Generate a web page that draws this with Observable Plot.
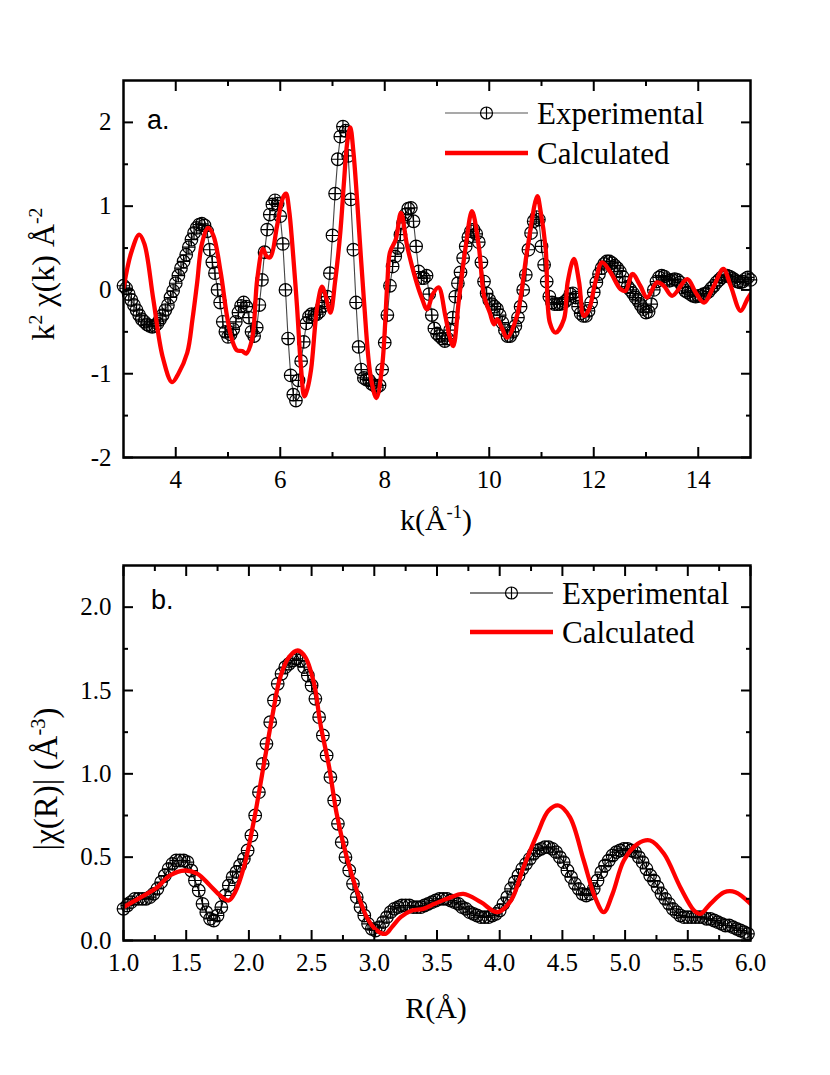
<!DOCTYPE html>
<html><head><meta charset="utf-8">
<script src="https://cdn.jsdelivr.net/npm/d3@7"></script>
<script src="https://cdn.jsdelivr.net/npm/@observablehq/plot@0.6"></script>
<style>body{margin:0;background:#fff;} #c{width:830px;} svg{display:block;} svg text{font-family:'Liberation Serif','Times New Roman',serif;}</style>
</head><body><div id="c"></div>
<script>
// ---------- Panel a: k-space ----------
const kExp = [3.00,3.05,3.10,3.15,3.20,3.25,3.30,3.35,3.40,3.45,3.50,3.55,3.60,3.65,3.70,3.75,3.80,3.85,3.90,3.95,
4.00,4.05,4.10,4.15,4.20,4.25,4.30,4.35,4.40,4.45,4.50,4.55,4.60,4.65,4.70,4.75,4.80,4.85,4.90,4.95,
5.00,5.05,5.10,5.15,5.20,5.25,5.30,5.35,5.40,5.45,5.50,5.55,5.60,5.65,5.70,5.75,5.80,5.85,5.90,5.95,
6.00,6.05,6.10,6.15,6.20,6.25,6.30,6.35,6.40,6.45,6.50,6.55,6.60,6.65,6.70,6.75,6.80,6.85,6.90,6.95,
7.00,7.05,7.10,7.15,7.20,7.25,7.30,7.35,7.40,7.45,7.50,7.55,7.60,7.65,7.70,7.75,7.80,7.85,7.90,7.95,
8.00,8.05,8.10,8.15,8.20,8.25,8.30,8.35,8.40,8.45,8.50,8.55,8.60,8.65,8.70,8.75,8.80,8.85,8.90,8.95,
9.00,9.05,9.10,9.15,9.20,9.25,9.30,9.35,9.40,9.45,9.50,9.55,9.60,9.65,9.70,9.75,9.80,9.85,9.90,9.95,
10.00,10.05,10.10,10.15,10.20,10.25,10.30,10.35,10.40,10.45,10.50,10.55,10.60,10.65,10.70,10.75,10.80,10.85,10.90,10.95,
11.00,11.05,11.10,11.15,11.20,11.25,11.30,11.35,11.40,11.45,11.50,11.55,11.60,11.65,11.70,11.75,11.80,11.85,11.90,11.95,
12.00,12.05,12.10,12.15,12.20,12.25,12.30,12.35,12.40,12.45,12.50,12.55,12.60,12.65,12.70,12.75,12.80,12.85,12.90,12.95,
13.00,13.05,13.10,13.15,13.20,13.25,13.30,13.35,13.40,13.45,13.50,13.55,13.60,13.65,13.70,13.75,13.80,13.85,13.90,13.95,
14.00,14.05,14.10,14.15,14.20,14.25,14.30,14.35,14.40,14.45,14.50,14.55,14.60,14.65,14.70,14.75,14.80,14.85,14.90,14.95,
15.00];
const chiExp = [0.05,0.02,-0.05,-0.12,-0.18,-0.24,-0.30,-0.35,-0.38,-0.41,-0.43,-0.44,-0.43,-0.40,-0.35,-0.30,-0.24,-0.18,-0.09,-0.01,
0.08,0.17,0.26,0.34,0.42,0.51,0.60,0.68,0.74,0.78,0.79,0.77,0.70,0.48,0.33,0.20,0.00,-0.15,-0.38,-0.50,
-0.56,-0.53,-0.47,-0.38,-0.27,-0.19,-0.15,-0.20,-0.33,-0.50,-0.55,-0.45,-0.18,0.12,0.45,0.72,0.90,1.02,1.07,1.03,
0.88,0.55,0.00,-0.58,-1.02,-1.25,-1.32,-1.08,-0.85,-0.62,-0.40,-0.32,-0.29,-0.30,-0.29,-0.26,-0.20,-0.15,-0.08,0.20,
0.65,1.15,1.56,1.83,1.95,1.90,1.60,1.08,0.48,-0.15,-0.68,-0.95,-1.05,-1.07,-1.08,-1.12,-1.14,-1.16,-1.14,-0.95,
-0.63,-0.30,0.05,0.28,0.40,0.50,0.66,0.80,0.90,0.97,0.98,0.82,0.52,0.22,0.14,0.14,0.17,-0.05,-0.30,-0.46,
-0.52,-0.55,-0.58,-0.61,-0.58,-0.48,-0.33,-0.08,0.08,0.21,0.38,0.52,0.63,0.70,0.72,0.67,0.57,0.33,0.10,-0.04,
-0.12,-0.17,-0.20,-0.23,-0.30,-0.39,-0.48,-0.55,-0.55,-0.50,-0.43,-0.33,-0.20,0.00,0.18,0.48,0.68,0.82,0.87,0.84,
0.52,0.30,0.10,-0.08,-0.15,-0.17,-0.17,-0.17,-0.16,-0.14,-0.11,-0.05,-0.04,-0.09,-0.20,-0.28,-0.31,-0.31,-0.25,-0.15,
-0.03,0.09,0.19,0.26,0.31,0.34,0.34,0.32,0.29,0.26,0.22,0.16,0.09,0.04,0.00,-0.04,-0.09,-0.13,-0.18,-0.23,
-0.27,-0.26,-0.17,0.00,0.10,0.15,0.17,0.16,0.13,0.11,0.12,0.13,0.12,0.09,0.03,-0.01,-0.03,-0.05,-0.07,-0.08,
-0.07,-0.07,-0.05,-0.04,-0.02,0.02,0.05,0.09,0.12,0.15,0.17,0.17,0.16,0.14,0.12,0.10,0.09,0.10,0.13,0.15,
0.12];
const kCalc = [3.00,3.15,3.30,3.40,3.57,3.75,3.93,4.05,4.22,4.32,4.41,4.50,4.62,4.72,4.86,4.98,5.08,5.17,5.27,5.35,5.46,5.56,5.67,5.74,5.81,5.94,6.05,6.11,6.17,6.23,6.32,6.40,6.46,6.52,6.59,6.71,6.80,6.86,6.96,7.05,7.15,7.22,7.28,7.34,7.40,7.47,7.60,7.73,7.84,7.95,8.05,8.10,8.21,8.31,8.43,8.59,8.70,8.81,8.92,9.03,9.16,9.24,9.31,9.42,9.55,9.67,9.80,9.90,10.01,10.09,10.15,10.24,10.34,10.53,10.73,10.92,10.98,11.08,11.16,11.27,11.43,11.50,11.62,11.72,11.81,11.91,12.03,12.16,12.32,12.51,12.61,12.74,12.89,13.02,13.21,13.34,13.50,13.79,13.95,14.11,14.30,14.48,14.62,14.81,14.94,15.00];
const chiCalc = [0.02,0.45,0.66,0.55,-0.11,-0.80,-1.10,-1.00,-0.75,-0.35,0.09,0.55,0.74,0.65,0.21,-0.31,-0.60,-0.72,-0.73,-0.76,-0.59,0.13,0.49,0.40,0.39,0.77,1.10,1.15,0.95,0.55,-0.19,-0.95,-1.27,-1.18,-0.95,-0.19,0.04,-0.05,-0.27,0.10,0.69,1.29,1.75,1.94,1.65,1.08,-0.11,-1.03,-1.29,-0.91,0.09,0.45,0.60,0.92,0.52,0.13,-0.08,-0.23,-0.05,0.03,-0.31,-0.55,-0.67,-0.11,0.52,0.94,0.52,-0.07,-0.27,-0.41,-0.35,-0.45,-0.57,-0.31,0.49,1.12,0.95,0.49,-0.39,-0.51,-0.35,0.09,0.37,0.09,-0.31,-0.23,0.09,0.33,0.21,0.01,-0.01,0.19,0.05,-0.09,0.09,0.05,-0.07,0.13,-0.03,-0.15,0.05,0.25,0.05,-0.25,-0.11,-0.05];
const aXMajor = [4,6,8,10,12,14], aXMinor = [5,7,9,11,13];
const aYMajor = [-2,-1,0,1,2], aYMinor = [-1.5,-0.5,0.5,1.5];

// ---------- Panel b: R-space ----------
const rExp = [1.00,1.03,1.06,1.09,1.12,1.15,1.18,1.21,1.24,1.27,1.30,1.33,1.36,1.39,1.42,1.45,1.48,1.51,1.54,1.57,1.60,1.63,1.66,1.69,1.72,1.75,1.78,1.81,1.84,1.87,1.90,1.93,1.96,1.99,
2.02,2.05,2.08,2.11,2.14,2.17,2.20,2.23,2.26,2.29,2.32,2.35,2.38,2.41,2.44,2.47,2.50,2.53,2.56,2.59,2.62,2.65,2.68,2.71,2.74,2.77,2.80,2.83,2.86,2.89,2.92,2.95,2.98,
3.01,3.04,3.07,3.10,3.13,3.16,3.19,3.22,3.25,3.28,3.31,3.34,3.37,3.40,3.43,3.46,3.49,3.52,3.55,3.58,3.61,3.64,3.67,3.70,3.73,3.76,3.79,3.82,3.85,3.88,3.91,3.94,3.97,
4.00,4.03,4.06,4.09,4.12,4.15,4.18,4.21,4.24,4.27,4.30,4.33,4.36,4.39,4.42,4.45,4.48,4.51,4.54,4.57,4.60,4.63,4.66,4.69,4.72,4.75,4.78,4.81,4.84,4.87,4.90,4.93,4.96,4.99,
5.02,5.05,5.08,5.11,5.14,5.17,5.20,5.23,5.26,5.29,5.32,5.35,5.38,5.41,5.44,5.47,5.50,5.53,5.56,5.59,5.62,5.65,5.68,5.71,5.74,5.77,5.80,5.83,5.86,5.89,5.92,5.95,5.98];
const ftExp = [0.19,0.21,0.23,0.25,0.25,0.25,0.25,0.26,0.28,0.31,0.35,0.39,0.43,0.46,0.48,0.48,0.48,0.47,0.42,0.36,0.30,0.22,0.17,0.13,0.12,0.15,0.20,0.27,0.33,0.38,0.41,0.45,0.49,0.54,
0.63,0.75,0.89,1.06,1.18,1.31,1.44,1.54,1.60,1.64,1.66,1.68,1.69,1.68,1.64,1.59,1.53,1.45,1.34,1.23,1.11,0.98,0.84,0.70,0.59,0.50,0.42,0.34,0.26,0.20,0.15,0.10,0.07,
0.06,0.08,0.11,0.14,0.17,0.19,0.20,0.21,0.21,0.21,0.20,0.20,0.20,0.21,0.22,0.23,0.24,0.25,0.25,0.25,0.24,0.23,0.22,0.20,0.19,0.17,0.16,0.15,0.14,0.14,0.14,0.15,0.16,
0.18,0.22,0.26,0.31,0.35,0.39,0.43,0.46,0.49,0.52,0.54,0.55,0.56,0.56,0.55,0.53,0.50,0.47,0.42,0.38,0.34,0.31,0.28,0.27,0.28,0.31,0.36,0.41,0.45,0.48,0.51,0.53,0.54,0.55,
0.55,0.54,0.53,0.50,0.47,0.43,0.39,0.36,0.32,0.28,0.25,0.22,0.19,0.17,0.15,0.14,0.14,0.14,0.14,0.14,0.14,0.13,0.13,0.12,0.11,0.10,0.09,0.09,0.08,0.07,0.06,0.05,0.04];
const rCalc = [1.00,1.14,1.27,1.37,1.49,1.59,1.69,1.77,1.84,1.89,1.96,2.04,2.12,2.19,2.25,2.32,2.39,2.45,2.52,2.57,2.64,2.70,2.78,2.86,2.94,3.02,3.09,3.14,3.21,3.30,3.39,3.48,3.58,3.71,3.85,3.98,4.09,4.19,4.30,4.39,4.47,4.56,4.67,4.76,4.83,4.90,4.99,5.10,5.20,5.31,5.44,5.55,5.60,5.68,5.79,5.88,6.00];
const ftCalc = [0.20,0.26,0.32,0.39,0.42,0.40,0.33,0.27,0.24,0.29,0.44,0.72,1.06,1.36,1.58,1.70,1.74,1.70,1.54,1.30,1.04,0.76,0.50,0.30,0.14,0.06,0.04,0.08,0.14,0.18,0.19,0.22,0.25,0.28,0.23,0.17,0.24,0.44,0.64,0.78,0.81,0.74,0.48,0.26,0.17,0.28,0.48,0.58,0.60,0.52,0.32,0.18,0.16,0.22,0.29,0.29,0.22];
const bXMajor = [1,1.5,2,2.5,3,3.5,4,4.5,5,5.5,6], bXMinor = [1.25,1.75,2.25,2.75,3.25,3.75,4.25,4.75,5.25,5.75];
const bYMajor = [0,0.5,1,1.5,2], bYMinor = [0.25,0.75,1.25,1.75];

const legendLabels = ["Experimental", "Calculated"];
const RED = "#ff0000";
const SERIF = "'Liberation Serif', 'Times New Roman', serif";
const SANS = "'Liberation Sans', Arial, sans-serif";

// circle with a cross inside (⊕ marker)
const circlePlus = {draw(ctx, size) {
  const r = Math.sqrt(size / Math.PI);
  ctx.moveTo(r, 0); ctx.arc(0, 0, r, 0, 2 * Math.PI);
  ctx.moveTo(-r, 0); ctx.lineTo(r, 0);
  ctx.moveTo(0, -r); ctx.lineTo(0, r);
}};

function frameAxes(xMaj, xMin, yMaj, yMin, fx, fy) {
  const t = {fill: "none", label: null, strokeWidth: 2};
  return [
    Plot.axisX(xMaj, {anchor: "bottom", tickSize: -10, ...t}),
    Plot.axisX(xMin, {anchor: "bottom", tickSize: -5, ...t}),
    Plot.axisX(xMaj, {anchor: "top", tickSize: -10, ...t}),
    Plot.axisX(xMin, {anchor: "top", tickSize: -5, ...t}),
    Plot.axisY(yMaj, {anchor: "left", tickSize: -10, ...t}),
    Plot.axisY(yMin, {anchor: "left", tickSize: -5, ...t}),
    Plot.axisY(yMaj, {anchor: "right", tickSize: -10, ...t}),
    Plot.axisY(yMin, {anchor: "right", tickSize: -5, ...t}),
    Plot.axisX(xMaj, {anchor: "bottom", tickSize: 0, tickPadding: 13, tickFormat: fx, label: null, fontSize: 25}),
    Plot.axisY(yMaj, {anchor: "left", tickSize: 0, tickPadding: 12, tickFormat: fy, label: null, fontSize: 25}),
    Plot.frame({stroke: "black", strokeWidth: 2.5})
  ];
}

function addText(svg, x, y, parts, opts = {}) {
  const size = opts.size || 30;
  const t = d3.select(svg).append("text")
    .attr("x", x).attr("y", y)
    .style("font-family", opts.family || SERIF)
    .attr("font-size", size)
    .attr("fill", "black")
    .attr("text-anchor", opts.anchor || "start");
  if (opts.rotate) t.attr("transform", `rotate(-90, ${x}, ${y})`);
  let shift = 0;
  for (const p of parts) {
    const s = t.append("tspan").text(p.t);
    if (p.sup) { s.attr("dy", -12 - shift).attr("font-size", size * 0.62); shift = -12; }
    else if (shift) { s.attr("dy", -shift); shift = 0; }
  }
  return t;
}

function addLegend(svg, x0, x1, y1, y2, tx, lineColor) {
  const g = d3.select(svg).append("g");
  g.append("line").attr("x1", x0).attr("x2", x1).attr("y1", y1).attr("y2", y1)
    .attr("stroke", lineColor).attr("stroke-width", 1.2);
  g.append("path").attr("transform", `translate(${(x0 + x1) / 2},${y1})`)
    .attr("d", d3.symbol(circlePlus, Math.PI * 36)()).attr("fill", "white").attr("stroke", "black").attr("stroke-width", 1.2);
  g.append("line").attr("x1", x0).attr("x2", x1).attr("y1", y2).attr("y2", y2)
    .attr("stroke", RED).attr("stroke-width", 4.5);
  for (const [i, yy] of [[0, y1], [1, y2]]) {
    g.append("text").attr("x", tx).attr("y", yy + 11).attr("text-anchor", "start")
      .style("font-family", SERIF).attr("font-size", 31).attr("fill", "black").text(legendLabels[i]);
  }
}

const expA = kExp.map((k, i) => ({k, v: chiExp[i]}));
const calcA = kCalc.map((k, i) => ({k, v: chiCalc[i]}));
const expB = rExp.map((r, i) => ({r, v: ftExp[i]}));
const calcB = rCalc.map((r, i) => ({r, v: ftCalc[i]}));

const TOP_B = 545; // page y where panel b's svg starts

const plotA = Plot.plot({
  width: 830, height: TOP_B,
  marginLeft: 123, marginRight: 80, marginTop: 80, marginBottom: TOP_B - 457,
  style: {fontFamily: SERIF, fontSize: "25px", color: "black", background: "white"},
  x: {domain: [3, 15]},
  y: {domain: [-2, 2.5]},
  marks: [
    Plot.line(expA, {x: "k", y: "v", stroke: "#444", strokeWidth: 1.1}),
    Plot.dot(expA, {x: "k", y: "v", symbol: circlePlus, r: 6.3, stroke: "black", fill: "none", strokeWidth: 1.2}),
    Plot.line(calcA, {x: "k", y: "v", stroke: RED, strokeWidth: 4.3, curve: "catmull-rom", clip: true}),
    ...frameAxes(aXMajor, aXMinor, aYMajor, aYMinor, d => String(d), d => String(d))
  ]
});

const plotB = Plot.plot({
  width: 830, height: 1075 - TOP_B,
  marginLeft: 123, marginRight: 80, marginTop: 565 - TOP_B, marginBottom: 1075 - 940,
  style: {fontFamily: SERIF, fontSize: "25px", color: "black", background: "white"},
  x: {domain: [1, 6]},
  y: {domain: [0, 2.25]},
  marks: [
    Plot.line(expB, {x: "r", y: "v", stroke: "black", strokeWidth: 1.1}),
    Plot.dot(expB, {x: "r", y: "v", symbol: circlePlus, r: 6.3, stroke: "black", fill: "none", strokeWidth: 1.2}),
    Plot.line(calcB, {x: "r", y: "v", stroke: RED, strokeWidth: 4.3, curve: "catmull-rom", clip: true}),
    ...frameAxes(bXMajor, bXMinor, bYMajor, bYMinor, d3.format(".1f"), d3.format(".1f"))
  ]
});

// Titles, panel letters, legends (panel a: page coords; panel b: page y - TOP_B)
addText(plotA, 436, 530, [{t: "k(Å"}, {t: "-1", sup: true}, {t: ")"}], {anchor: "middle"});
addText(plotA, 54, 274, [{t: "k"}, {t: "2", sup: true}, {t: " χ(k) Å"}, {t: "-2", sup: true}], {anchor: "middle", rotate: true, size: 32});
addText(plotA, 147, 129, [{t: "a."}], {family: SANS, size: 27});
addLegend(plotA, 445, 528, 113, 153, 537, "#555");

addText(plotB, 436, 1018 - TOP_B, [{t: "R(Å)"}], {anchor: "middle"});
addText(plotB, 57, 779 - TOP_B, [{t: "|χ(R)| (Å"}, {t: "-3", sup: true}, {t: ")"}], {anchor: "middle", rotate: true, size: 33});
addText(plotB, 151, 609 - TOP_B, [{t: "b."}], {family: SANS, size: 27});
addLegend(plotB, 470, 553, 593 - TOP_B, 632 - TOP_B, 562, "black");

document.getElementById("c").append(plotA, plotB);
</script>
</body></html>
